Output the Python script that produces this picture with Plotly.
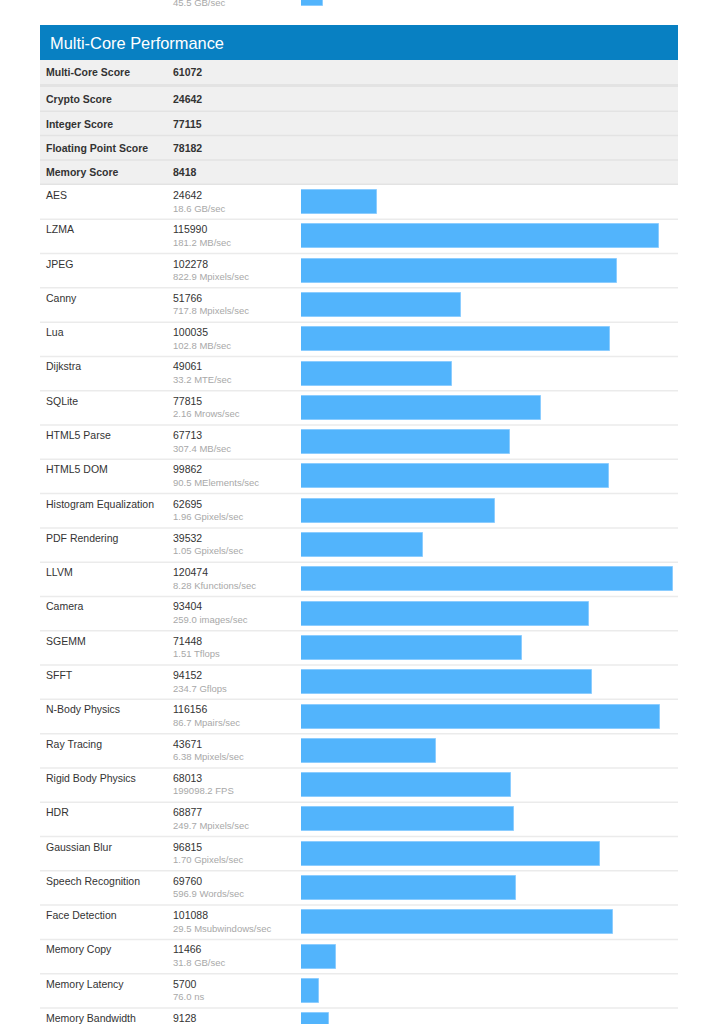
import plotly.graph_objects as go

# ---------------- data ----------------
summary_names = ["Multi-Core Score", "Crypto Score", "Integer Score",
                 "Floating Point Score", "Memory Score"]
summary_scores = [61072, 24642, 77115, 78182, 8418]

bench_names = ["AES", "LZMA", "JPEG", "Canny", "Lua", "Dijkstra", "SQLite",
               "HTML5 Parse", "HTML5 DOM", "Histogram Equalization",
               "PDF Rendering", "LLVM", "Camera", "SGEMM", "SFFT",
               "N-Body Physics", "Ray Tracing", "Rigid Body Physics", "HDR",
               "Gaussian Blur", "Speech Recognition", "Face Detection",
               "Memory Copy", "Memory Latency", "Memory Bandwidth"]
bench_scores = [24642, 115990, 102278, 51766, 100035, 49061, 77815, 67713,
                99862, 62695, 39532, 120474, 93404, 71448, 94152, 116156,
                43671, 68013, 68877, 96815, 69760, 101088, 11466, 5700, 9128]
bench_units = ["18.6 GB/sec", "181.2 MB/sec", "822.9 Mpixels/sec",
               "717.8 Mpixels/sec", "102.8 MB/sec", "33.2 MTE/sec",
               "2.16 Mrows/sec", "307.4 MB/sec", "90.5 MElements/sec",
               "1.96 Gpixels/sec", "1.05 Gpixels/sec", "8.28 Kfunctions/sec",
               "259.0 images/sec", "1.51 Tflops", "234.7 Gflops",
               "86.7 Mpairs/sec", "6.38 Mpixels/sec", "199098.2 FPS",
               "249.7 Mpixels/sec", "1.70 Gpixels/sec", "596.9 Words/sec",
               "29.5 Msubwindows/sec", "31.8 GB/sec", "76.0 ns", ""]

# tail of the previous (single-core) section, cut off at the top of the page
prev_units = ["45.5 GB/sec"]
prev_bar_frac = [0.06]

title_text = "Multi-Core Performance"

# ---------------- layout constants (pixels) ----------------
W, H = 708, 1024
TBL_L, TBL_R = 40, 678
NAME_X, VAL_X = 44, 171
BAR_L, BAR_R = 301, 673
HEAD_T, HEAD_B = 25, 60
SUM_ROW1 = (60, 84)
SUM_BAND = 3
SUM_PITCH = 24.3
BENCH_T = 185
PITCH = 34.29
BAR_H = 24
FONT = "Liberation Sans, Arial, sans-serif"

BLUE_HEAD = "#0880c2"
BAR_FILL = "#52b4fc"
BAR_LINE = "#8ccdff"
GREY_BG = "#f0f0f0"
GREY_LINE = "#e3e3e3"
ROW_LINE = "#ebebeb"
TXT = "#333333"
TXT_UNIT = "#a8a8a8"


def px(x):
    return x / W


def py(y):
    return 1 - y / H


shapes = []
annotations = []

# header
shapes.append(dict(type="rect", xref="paper", yref="paper",
                   x0=px(TBL_L), x1=px(TBL_R), y0=py(HEAD_T), y1=py(HEAD_B),
                   fillcolor=BLUE_HEAD, line=dict(width=0), layer="below"))
annotations.append(dict(xref="paper", yref="paper", x=px(48), y=py((HEAD_T + HEAD_B) / 2),
                        text=title_text, showarrow=False, xanchor="left", yanchor="middle",
                        font=dict(family=FONT, size=16.4, color="white")))

# summary rows
sum_rows = [SUM_ROW1]
top = SUM_ROW1[1] + SUM_BAND
for i in range(1, len(summary_names)):
    sum_rows.append((top, top + SUM_PITCH))
    top += SUM_PITCH
sum_bottom = sum_rows[-1][1]
shapes.append(dict(type="rect", xref="paper", yref="paper",
                   x0=px(TBL_L), x1=px(TBL_R), y0=py(HEAD_B), y1=py(sum_bottom),
                   fillcolor=GREY_BG, line=dict(width=0), layer="below"))
shapes.append(dict(type="rect", xref="paper", yref="paper",
                   x0=px(TBL_L), x1=px(TBL_R), y0=py(SUM_ROW1[1]), y1=py(SUM_ROW1[1] + SUM_BAND),
                   fillcolor=GREY_LINE, line=dict(width=0), layer="below"))
for (t, b) in sum_rows[1:]:
    shapes.append(dict(type="line", xref="paper", yref="paper",
                       x0=px(TBL_L), x1=px(TBL_R), y0=py(b), y1=py(b),
                       line=dict(color=GREY_LINE, width=1.5), layer="below"))
for (t, b), name, score in zip(sum_rows, summary_names, summary_scores):
    yc = py(t + 12.3)
    annotations.append(dict(xref="paper", yref="paper", x=px(NAME_X), y=yc,
                            text="<b>%s</b>" % name, showarrow=False,
                            xanchor="left", yanchor="middle",
                            font=dict(family=FONT, size=10.5, color=TXT)))
    annotations.append(dict(xref="paper", yref="paper", x=px(VAL_X), y=yc,
                            text="<b>%d</b>" % score, showarrow=False,
                            xanchor="left", yanchor="middle",
                            font=dict(family=FONT, size=10.5, color=TXT)))

# benchmark rows
n = len(bench_names)
for i in range(1, n):
    y = BENCH_T + i * PITCH
    shapes.append(dict(type="line", xref="paper", yref="paper",
                       x0=px(TBL_L), x1=px(TBL_R), y0=py(y), y1=py(y),
                       line=dict(color=ROW_LINE, width=1.5), layer="below"))
for i, (name, score, unit) in enumerate(zip(bench_names, bench_scores, bench_units)):
    t = BENCH_T + i * PITCH
    annotations.append(dict(xref="paper", yref="paper", x=px(NAME_X), y=py(t + 10),
                            text=name, showarrow=False, xanchor="left", yanchor="middle",
                            font=dict(family=FONT, size=10.5, color=TXT)))
    annotations.append(dict(xref="paper", yref="paper", x=px(VAL_X), y=py(t + 10),
                            text=str(score), showarrow=False, xanchor="left", yanchor="middle",
                            font=dict(family=FONT, size=10.5, color=TXT)))
    if unit:
        annotations.append(dict(xref="paper", yref="paper", x=px(VAL_X), y=py(t + 23),
                                text=unit, showarrow=False, xanchor="left", yanchor="middle",
                                font=dict(family=FONT, size=9.5, color=TXT_UNIT)))

# previous section tail (cut off)
PREV_T = HEAD_T - 48
for i, unit in enumerate(prev_units):
    annotations.append(dict(xref="paper", yref="paper", x=px(VAL_X), y=py(PREV_T + 25),
                            text=unit, showarrow=False, xanchor="left", yanchor="middle",
                            font=dict(family=FONT, size=9.5, color=TXT_UNIT)))

fig = go.Figure()

# benchmark bars
bar_w = BAR_H / PITCH
fig.add_trace(go.Bar(
    x=bench_scores, y=list(range(n)), orientation="h",
    xaxis="x2", yaxis="y2", width=bar_w,
    marker=dict(color=BAR_FILL, line=dict(color=BAR_LINE, width=1)),
    hoverinfo="x", showlegend=False))

# previous section bar
fig.add_trace(go.Bar(
    x=prev_bar_frac, y=list(range(len(prev_bar_frac))), orientation="h",
    xaxis="x3", yaxis="y3", width=bar_w,
    marker=dict(color=BAR_FILL, line=dict(color=BAR_LINE, width=1)),
    hoverinfo="skip", showlegend=False))

y2_bottom = (H - BENCH_T) / PITCH - 0.5
prev_top_units = (0 - PREV_T) / PITCH - 0.5
prev_bot_units = (HEAD_T - PREV_T) / PITCH - 0.5

fig.update_layout(
    width=W, height=H,
    margin=dict(l=0, r=0, t=0, b=0),
    paper_bgcolor="white", plot_bgcolor="rgba(0,0,0,0)",
    shapes=shapes, annotations=annotations,
    xaxis=dict(visible=False, domain=[0, 0.01]),
    yaxis=dict(visible=False, domain=[0, 0.01]),
    xaxis2=dict(visible=False, domain=[px(BAR_L), px(BAR_R)],
                range=[0, max(bench_scores)], anchor="y2"),
    yaxis2=dict(visible=False, domain=[0, py(BENCH_T)],
                range=[y2_bottom, -0.5], anchor="x2"),
    xaxis3=dict(visible=False, domain=[px(BAR_L), px(BAR_R)],
                range=[0, 1], anchor="y3"),
    yaxis3=dict(visible=False, domain=[py(HEAD_T), 1],
                range=[prev_bot_units, prev_top_units], anchor="x3"),
    bargap=0,
)

fig.write_html("out.html",
               config={"displayModeBar": False},
               post_script="document.body.style.margin='0px';"
                           "document.body.style.overflow='hidden';")
